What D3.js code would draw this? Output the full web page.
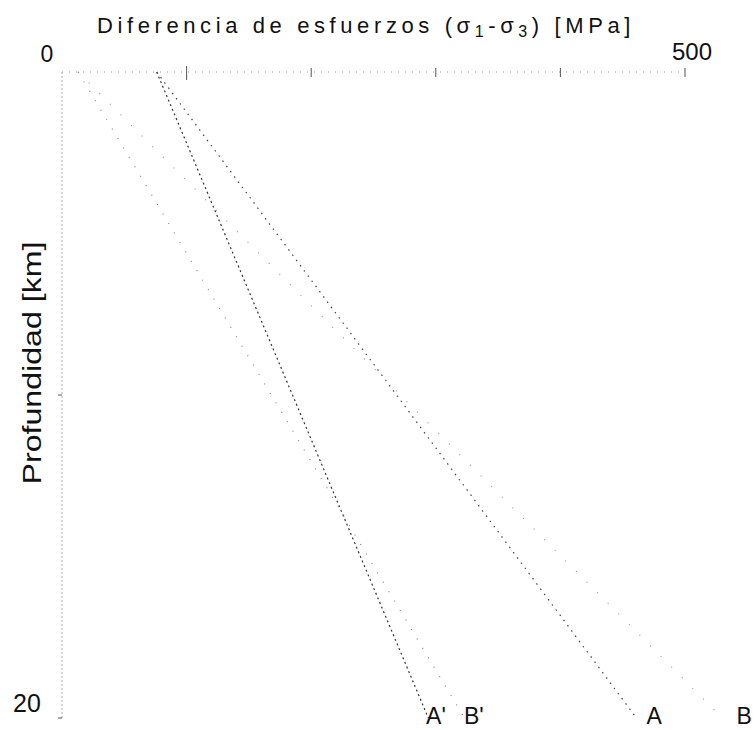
<!DOCTYPE html>
<html>
<head>
<meta charset="utf-8">
<script src="https://cdn.jsdelivr.net/npm/d3@7"></script>
<style>
  body { margin: 0; background: #fff; }
  text { font-family: "Liberation Sans", Arial, sans-serif; fill: #111; }
</style>
</head>
<body>
<script>
// depth in km, stress difference in MPa
const depth = [0, 20];
const stressA  = [76, 461];
const stressA2 = [76, 294];   // A'
const stressB  = [13, 530];
const stressB2 = [13, 323];   // B'
const xTicks = [0, 100, 200, 300, 400, 500];
const yTicks = [0, 10, 20];

const svg = d3.select("body").append("svg")
    .attr("width", 756)
    .attr("height", 730);

const x = d3.scaleLinear().domain([0, 500]).range([62, 685]);
const y = d3.scaleLinear().domain([0, 20]).range([72, 718]);

// axes, faint like the scan
svg.append("line")
    .attr("x1", x(0)).attr("x2", x(500))
    .attr("y1", y(0)).attr("y2", y(0))
    .attr("stroke", "#999").attr("stroke-dasharray", "1,6");
svg.append("line")
    .attr("x1", x(0)).attr("x2", x(0))
    .attr("y1", y(0)).attr("y2", y(20))
    .attr("stroke", "#aaa").attr("stroke-dasharray", "2,2");

svg.selectAll(".xt").data(xTicks.slice(1))
    .enter().append("line")
    .attr("x1", d => x(d)).attr("x2", d => x(d))
    .attr("y1", d => y(0) - (d == 100 ? 6 : 4))
    .attr("y2", d => y(0) + (d == 100 ? 8 : 5))
    .attr("stroke", "#555");

svg.selectAll(".yt").data(yTicks.slice(1))
    .enter().append("line")
    .attr("x1", x(0) - 4).attr("x2", x(0))
    .attr("y1", d => y(d)).attr("y2", d => y(d))
    .attr("stroke", "#555");

svg.append("text").attr("x", x(0) - 15).attr("y", y(0) - 10)
    .attr("text-anchor", "middle").attr("font-size", 23).text("0");
svg.append("text").attr("x", x(500) + 7).attr("y", y(0) - 12)
    .attr("text-anchor", "middle").attr("font-size", 24).text("500");
svg.append("text").attr("x", x(0) - 49).attr("y", y(20) - 6)
    .attr("font-size", 25).text("20");

// title
const title = svg.append("text").attr("x", 97).attr("y", 33)
    .attr("font-size", 22).attr("letter-spacing", "4.6px");
title.append("tspan").text("Diferencia de esfuerzos (σ");
title.append("tspan").attr("font-size", 16).attr("dy", 4).text("1");
title.append("tspan").attr("dy", -4).text("-σ");
title.append("tspan").attr("font-size", 16).attr("dy", 4).text("3");
title.append("tspan").attr("dy", -4).text(") [MPa]");

svg.append("text")
    .attr("transform", "translate(41,363) rotate(-90)")
    .attr("text-anchor", "middle")
    .attr("font-size", 25)
    .attr("textLength", 243).attr("lengthAdjust", "spacingAndGlyphs")
    .text("Profundidad [km]");

// strength lines
const series = [
    { name: "A'", values: stressA2, color: "#333", dash: "2,3" },
    { name: "B'", values: stressB2, color: "#888", dash: "1,10" },
    { name: "A",  values: stressA,  color: "#444", dash: "1.5,5" },
    { name: "B",  values: stressB,  color: "#999", dash: "1,14" }
];

const line = d3.line()
    .x(d => x(d[0]))
    .y(d => y(d[1]));

svg.selectAll(".curve").data(series)
    .enter().append("path")
    .attr("d", s => line(s.values.map((v, i) => [v, depth[i]])))
    .attr("fill", "none")
    .attr("stroke", s => s.color)
    .attr("stroke-width", 1.2)
    .attr("stroke-dasharray", s => s.dash);

svg.selectAll(".lbl").data(series)
    .enter().append("text")
    .attr("x", s => x(s.values[1]) + 2 + (s.values[1] - 200) * 0.06)
    .attr("y", 724)
    .attr("text-anchor", "middle")
    .attr("font-size", 23)
    .text(s => s.name);
</script>
</body>
</html>
